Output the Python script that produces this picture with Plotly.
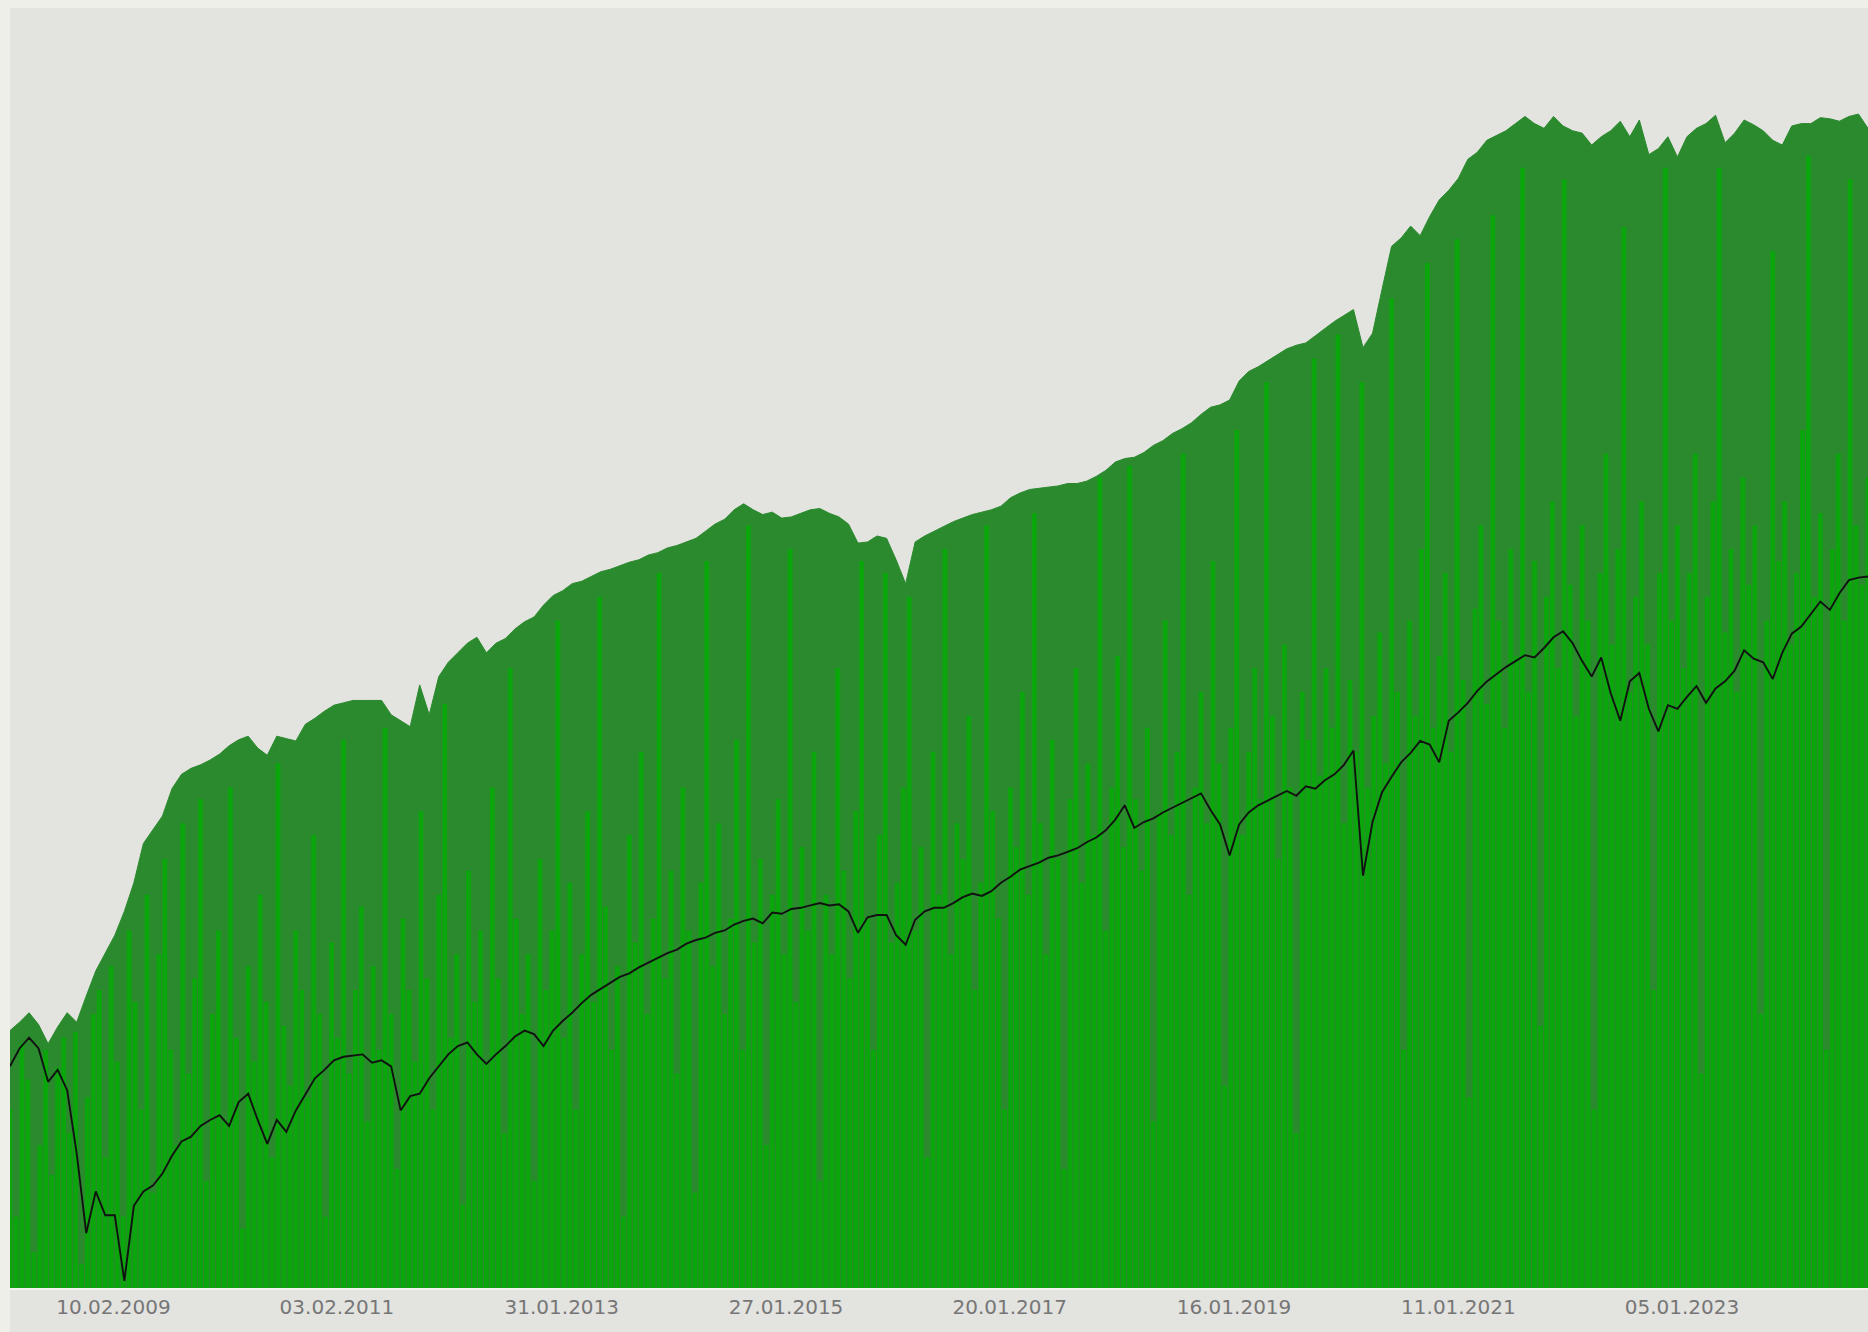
import pandas as pd
import plotly.graph_objects as go

# time span covered by the plot (left edge -> right edge)
start, end = "2008-03-12", "2024-08-29"

# upper envelope of the dark green bars (arbitrary units, 0 = baseline)
envelope = [216, 223, 231, 221, 205, 219, 231, 223, 245, 266, 281, 296, 316, 340, 373, 384,
            396, 419, 431, 436, 439, 443, 448, 455, 460, 463, 453, 447, 463, 461, 459, 473,
            478, 484, 489, 491, 493, 493, 493, 493, 481, 476, 471, 506, 481, 513, 525, 533,
            541, 546, 533, 541, 545, 553, 559, 563, 573, 581, 585, 591, 593, 597, 601, 603,
            606, 609, 611, 615, 617, 621, 623, 626, 629, 635, 641, 645, 653, 658, 653, 649,
            651, 646, 647, 650, 653, 654, 650, 647, 641, 625, 626, 631, 629, 611, 591, 626,
            631, 635, 639, 643, 646, 649, 651, 653, 656, 663, 667, 670, 671, 672, 673, 675,
            675, 677, 681, 686, 693, 696, 697, 701, 707, 711, 717, 721, 726, 733, 739, 741,
            745, 761, 769, 773, 778, 783, 788, 791, 793, 799, 805, 811, 816, 821, 789, 801,
            838, 874, 881, 891, 883, 899, 913, 921, 931, 947, 953, 963, 967, 971, 977, 983,
            977, 973, 983, 975, 971, 969, 959, 966, 971, 979, 966, 980, 951, 956, 966, 949,
            966, 973, 977, 984, 961, 969, 980, 976, 971, 963, 959, 975, 977, 977, 982, 981,
            979, 983, 985, 973]

# heights of the bright green bars
bright = [150, 60, 205, 175, 30, 120, 200, 95, 185, 210,
          130, 215, 20, 160, 230, 250, 110, 270, 190, 60,
          300, 240, 150, 330, 80, 280, 360, 200, 120, 390,
          180, 260, 410, 90, 230, 300, 140, 420, 210, 50,
          270, 190, 330, 240, 110, 440, 220, 170, 300, 250,
          160, 380, 230, 60, 290, 210, 460, 180, 250, 320,
          140, 270, 200, 470, 230, 100, 310, 250, 190, 400,
          260, 150, 330, 490, 210, 280, 70, 350, 240, 300,
          190, 420, 260, 130, 520, 310, 230, 280, 90, 360,
          250, 300, 560, 210, 340, 150, 280, 400, 240, 580,
          320, 200, 270, 60, 380, 290, 450, 230, 310, 600,
          260, 350, 180, 420, 300, 80, 340, 610, 270, 390,
          230, 310, 460, 200, 640, 290, 360, 120, 330, 410,
          280, 620, 240, 370, 300, 450, 90, 330, 280, 520,
          350, 260, 400, 610, 310, 200, 380, 600, 290, 340,
          420, 580, 300, 370, 110, 450, 330, 620, 280, 390,
          360, 480, 250, 340, 640, 400, 310, 150, 420, 370,
          500, 330, 650, 390, 280, 460, 360, 100, 410, 520,
          340, 440, 380, 680, 300, 420, 530, 370, 690, 410,
          350, 470, 140, 400, 560, 380, 450, 700, 330, 420,
          500, 390, 610, 440, 170, 470, 720, 380, 450, 520,
          410, 760, 480, 360, 540, 420, 130, 500, 460, 780,
          430, 520, 470, 800, 390, 510, 450, 760, 420, 480,
          550, 440, 830, 500, 200, 560, 480, 620, 860, 470,
          530, 600, 450, 880, 510, 160, 570, 640, 490, 900,
          560, 470, 620, 530, 940, 500, 610, 220, 580, 660,
          520, 930, 590, 480, 640, 560, 150, 600, 700, 540,
          620, 890, 500, 580, 660, 540, 250, 600, 940, 560,
          640, 520, 600, 700, 180, 580, 660, 940, 550, 620,
          500, 680, 590, 640, 230, 560, 870, 610, 660, 540,
          600, 720, 950, 580, 650, 200, 620, 700, 560, 930,
          640, 590, 680]

# benchmark index (black line)
index_line = [186, 201, 210, 201, 173, 183, 166, 113, 46, 81, 61, 61, 6, 69, 81, 86,
              96, 111, 123, 127, 136, 141, 145, 136, 156, 163, 141, 121, 141, 131, 149, 163,
              176, 183, 191, 194, 195, 196, 189, 191, 186, 149, 161, 163, 176, 186, 196, 203,
              206, 196, 188, 196, 203, 211, 216, 213, 203, 216, 224, 231, 239, 246, 251, 256,
              261, 264, 269, 273, 277, 281, 284, 289, 292, 294, 298, 300, 305, 308, 310, 306,
              315, 314, 318, 319, 321, 323, 321, 322, 316, 298, 311, 313, 313, 296, 288, 309,
              316, 319, 319, 323, 328, 331, 329, 333, 340, 345, 351, 354, 357, 361, 363, 366,
              369, 374, 378, 384, 393, 405, 386, 391, 394, 399, 403, 407, 411, 415, 401, 389,
              363, 389, 399, 405, 409, 413, 417, 413, 421, 419, 426, 431, 439, 451, 346, 391,
              416, 429, 441, 449, 459, 456, 441, 476, 483, 491, 501, 509, 515, 521, 526, 531,
              529, 537, 546, 551, 541, 526, 513, 529, 499, 476, 509, 516, 486, 467, 489, 486,
              496, 505, 491, 503, 509, 518, 535, 528, 525, 511, 533, 549, 555, 566, 576, 569,
              583, 594, 596, 597]

tick_dates = ["2009-02-10", "2011-02-03", "2013-01-31", "2015-01-27",
              "2017-01-20", "2019-01-16", "2021-01-11", "2023-01-05"]
tick_labels = ["10.02.2009", "03.02.2011", "31.01.2013", "27.01.2015",
               "20.01.2017", "16.01.2019", "11.01.2021", "05.01.2023"]


def dates(n):
    return pd.date_range(start, end, periods=n)


# bright bars as vertical segments so they sit above the dark area
seg_x, seg_y = [], []
for d, h in zip(dates(len(bright)), bright):
    seg_x += [d, d, None]
    seg_y += [0, h, None]

fig = go.Figure()

fig.add_trace(go.Scatter(x=dates(len(envelope)), y=envelope, mode='lines',
                         fill='tozeroy', fillcolor='#2b8a2e',
                         line=dict(color='#2b8a2e', width=1)))

fig.add_trace(go.Scatter(x=seg_x, y=seg_y, mode='lines',
                         line=dict(color='#0aa60c', width=4.8)))

fig.add_trace(go.Scatter(x=dates(len(index_line)), y=index_line, mode='lines',
                         line=dict(color='#111111', width=1.9)))

fig.update_layout(width=1868, height=1332,
                  margin=dict(l=10, r=0, t=8, b=44),
                  showlegend=False,
                  paper_bgcolor='#efefea',
                  plot_bgcolor='#e3e3e0',
                  shapes=[dict(type='rect', xref='paper', yref='paper',
                               x0=0, x1=1.01, y0=-0.05, y1=0,
                               fillcolor='#e3e3e0', line_width=0, layer='below')])

fig.update_xaxes(type='date', range=[start, end],
                 tickvals=tick_dates, ticktext=tick_labels,
                 tickfont=dict(family='DejaVu Sans', size=20, color='#767676'),
                 showgrid=False, zeroline=False, ticks='',
                 showline=True, linecolor='#f2f2ee', linewidth=2)

fig.update_yaxes(range=[0, 1074], visible=False, showgrid=False, zeroline=False)

fig.write_html("out.html", config={'displayModeBar': False},
               post_script="document.body.style.margin='0';"
                           "document.body.style.overflow='hidden';")
